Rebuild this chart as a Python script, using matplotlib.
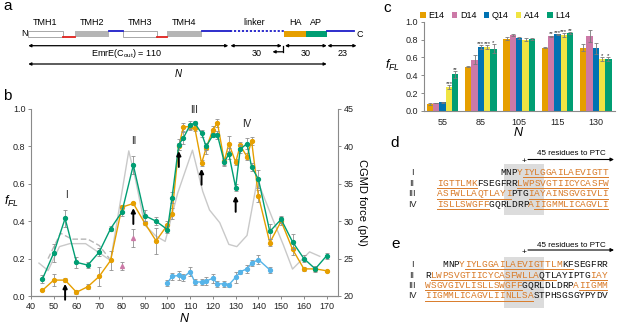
import matplotlib
matplotlib.use("Agg")
import matplotlib.pyplot as plt
from matplotlib.patches import Rectangle
import numpy as np

plt.rcParams['font.family'] = ['Liberation Sans', 'DejaVu Sans']
plt.rcParams['mathtext.fontset'] = 'custom'
plt.rcParams['mathtext.it'] = 'Liberation Sans:italic'
plt.rcParams['mathtext.rm'] = 'Liberation Sans'

W, H = 617, 324

# ---------------- panel b data ----------------
n_main = [45, 50, 55, 60, 65, 70, 75, 80, 85, 90, 95, 100, 102, 105, 107, 110, 112,
          115, 117, 120, 122, 125, 127, 130, 132, 135, 137, 140, 145, 150, 155, 160, 165, 170]
f_orange = [0.03, 0.085, 0.085, 0.02, 0.05, 0.105, 0.19, 0.475, 0.495, 0.39, 0.295, 0.38, 0.44,
            0.80, 0.905, 0.905, 0.90, 0.71, 0.79, 0.89, 0.925, 0.72, 0.815, 0.715, 0.805, 0.745,
            0.83, 0.535, 0.285, 0.40, 0.25, 0.145, 0.145, 0.135]
err_orange = [0.005, 0.03, 0.01, 0.01, 0.015, 0.05, 0.05, 0.01, 0.01, 0.01, 0.07, 0.02, 0.03,
              0.02, 0.02, 0.015, 0.02, 0.015, 0.03, 0.02, 0.02, 0.02, 0.04, 0.015, 0.02, 0.02,
              0.02, 0.03, 0.02, 0.02, 0.03, 0.01, 0.01, 0.005]
f_green = [0.09, 0.23, 0.415, 0.18, 0.165, 0.235, 0.36, 0.45, 0.70, 0.43, 0.40, 0.355, 0.525,
           0.81, 0.845, 0.915, 0.925, 0.87, 0.80, 0.86, 0.86, 0.715, 0.76, 0.58, 0.785, 0.815,
           0.69, 0.625, 0.345, 0.41, 0.29, 0.20, 0.145, 0.215]
err_green = [0.02, 0.05, 0.045, 0.03, 0.015, 0.02, 0.015, 0.02, 0.05, 0.03, 0.02, 0.02, 0.03,
             0.03, 0.03, 0.02, 0.01, 0.02, 0.02, 0.01, 0.02, 0.02, 0.03, 0.02, 0.02, 0.03,
             0.02, 0.05, 0.04, 0.02, 0.04, 0.02, 0.015, 0.015]
n_blue = [100, 102, 105, 107, 110, 112, 115, 117, 120, 122, 125, 127, 130, 132, 135, 137, 140, 145]
f_blue = [0.07, 0.105, 0.11, 0.10, 0.13, 0.075, 0.075, 0.08, 0.095, 0.065, 0.065, 0.06,
          0.10, 0.13, 0.145, 0.175, 0.195, 0.14]
err_blue = [0.015, 0.02, 0.025, 0.02, 0.025, 0.015, 0.015, 0.02, 0.025, 0.015, 0.015, 0.01,
            0.03, 0.01, 0.02, 0.015, 0.025, 0.015]
n_pink = [80, 85]
f_pink = [0.16, 0.31]
err_pink = [0.02, 0.05]

# CGMD force (pN), right axis
cg_n = [43.5, 47.5, 52.5, 57, 64, 75, 83, 86, 90, 95, 99, 104.5, 111, 115.5, 118.5, 123, 127,
        130.5, 135, 139.5, 146, 151, 155, 162.5, 167]
cg_force = [24.4, 23.4, 26.6, 27.0, 27.0, 24.75, 39.4, 35.5, 29.5, 28.0, 27.3, 33.75, 39.5,
            34.0, 31.5, 29.8, 26.9, 26.6, 28.1, 35.5, 30.5, 26.8, 23.6, 25.9, 25.3]
cg2_n = [47.5, 53, 58, 65, 70, 74.5]
cg2_force = [25.0, 28.4, 27.6, 27.6, 26.75, 25.0]

arrow_n = [55, 85, 105, 115, 130]
arrow_tip = [0.065, 0.47, 0.775, 0.68, 0.535]
helix_labels = ['I', 'II', 'III', 'IV']
helix_n = [55.5, 85, 111.5, 135]
helix_f = [0.54, 0.83, 0.995, 0.92]

# ---------------- panel c data ----------------
c_groups = ['55', '85', '105', '115', '130']
c_names = ['E14', 'D14', 'Q14', 'A14', 'L14']
c_colors = ['#E69F00', '#CC79A7', '#0072B2', '#F0E442', '#009E73']
c_vals = [[0.08, 0.495, 0.81, 0.71, 0.71],
          [0.09, 0.575, 0.85, 0.835, 0.84],
          [0.10, 0.715, 0.82, 0.86, 0.70],
          [0.27, 0.715, 0.80, 0.85, 0.585],
          [0.41, 0.695, 0.81, 0.87, 0.58]]
c_errs = [[0.01, 0.005, 0.02, 0.01, 0.035],
          [0.005, 0.05, 0.01, 0.01, 0.065],
          [0.005, 0.02, 0.01, 0.005, 0.065],
          [0.02, 0.02, 0.02, 0.02, 0.02],
          [0.04, 0.05, 0.01, 0.01, 0.02]]
c_stars = [['', '', '', '', ''],
           ['', '', '', '**', ''],
           ['', '***', '', '***', ''],
           ['***', '***', '', '***', '*'],
           ['**', '*', '', '**', '*']]

# ---------------- panels d / e sequences ----------------
d_seq = ["MNPYIYLGGAILAEVIGTT", "IGTTLMKFSEGFRRLWPSVGTIICYCASFW",
         "ASFWLLAQTLAYIPTGIAYAINSGVGIVLI", "ISLLSWGFFGQRLDRPAIIGMMLICAGVLI"]
d_start = [11, 0, 0, 0]
d_orange = [[(3, 19)], [(0, 7), (14, 30)], [(0, 13), (16, 30)], [(0, 9), (16, 30)]]
d_under = [[(4, 19)], [(0, 7), (14, 30)], [(0, 13), (16, 30)], [(0, 9), (17, 30)]]
pe_seq = ["MNPYIYLGGAILAEVIGTTLMKFSEGFRR", "RLWPSVGTIICYCASFWLLAQTLAYIPTGIAY",
          "WSGVGIVLISLLSWGFFGQRLDLDRPAIIGMM", "IIGMMLICAGVLIINLLSASTPHSGSGYPYDV"]
pe_start = [3, 0, 0, 0]
pe_orange = [[(3, 21)], [(1, 20), (29, 32)], [(0, 17), (26, 32)], [(0, 19)]]
pe_under = [[(4, 23)], [(1, 23), (29, 32)], [(0, 17), (27, 32)], [(0, 19)]]
roman = ['I', 'II', 'III', 'IV']

ORANGE_TXT = '#D97B29'
SPINE = '#8a8a8a'

fig = plt.figure(figsize=(W / 100, H / 100), dpi=100)


def frac(x0, y0, x1, y1):
    return [x0 / W, 1 - y1 / H, (x1 - x0) / W, (y1 - y0) / H]


def style_axis(ax):
    for s in ax.spines.values():
        s.set_color(SPINE)
        s.set_linewidth(0.8)
    ax.tick_params(labelsize=6.5, length=2.5, width=0.7, color=SPINE, pad=1.5, labelcolor='#222222')


# ---------------- panel b ----------------
axb = fig.add_axes(frac(31, 109, 338, 296))
axr = axb.twinx()
axr.plot(cg_n, cg_force, color='#c9c9c9', lw=1.0)
axr.plot(cg2_n, cg2_force, color='#b5b5b5', lw=1.0, ls=(0, (4, 2)))
axr.set_ylim(20, 45)
axr.set_yticks(range(20, 46, 5))
axb.set_zorder(axr.get_zorder() + 1)
axb.patch.set_visible(False)


def series(ax, x, y, err, color, marker='o', line=True):
    ax.errorbar(x, y, yerr=err, fmt='none', ecolor='#8f8f8f', elinewidth=0.6, capsize=1.5, capthick=0.6)
    ax.plot(x, y, color=color, lw=1.0 if line else 0, marker=marker, ms=2.8, mec=color)


series(axb, n_blue, f_blue, err_blue, '#56B4E9')
series(axb, n_main, f_orange, err_orange, '#E69F00')
series(axb, n_main, f_green, err_green, '#009E73')
series(axb, n_pink, f_pink, err_pink, '#CC79A7', marker='^', line=False)

for n, tip in zip(arrow_n, arrow_tip):
    axb.annotate('', xy=(n, tip), xytext=(n, tip - 0.085),
                 arrowprops=dict(arrowstyle='-|>', color='k', lw=1.4, mutation_scale=6,
                                 shrinkA=0, shrinkB=0), annotation_clip=False)
for lab, n, f in zip(helix_labels, helix_n, helix_f):
    axb.text(n, f, lab, ha='center', va='center', fontsize=7, color='#222222')

axb.set_xlim(40, 175)
axb.set_ylim(0, 1)
axb.set_xticks(range(40, 171, 10))
axb.set_yticks(np.arange(0, 1.01, 0.2))
axb.set_yticklabels([f'{v:.1f}' for v in np.arange(0, 1.01, 0.2)])
for ax in (axb, axr):
    style_axis(ax)
    ax.spines['top'].set_visible(False)
axb.spines['right'].set_visible(False)
axr.spines['left'].set_visible(False)
axb.set_xlabel('$N$', fontsize=9, labelpad=1)
axr.set_ylabel('CGMD force (pN)', fontsize=8, rotation=270, labelpad=10)

# ---------------- panel c ----------------
axc = fig.add_axes(frac(423.5, 21.7, 615, 111))
x = np.arange(len(c_groups))
w = 0.165
for i, (name, col) in enumerate(zip(c_names, c_colors)):
    pos = x + (i - 2) * w
    axc.bar(pos, c_vals[i], w, color=col, label=name, yerr=c_errs[i],
            error_kw=dict(ecolor='#7a7a7a', elinewidth=0.6, capsize=1.1, capthick=0.6))
    for p, v, er, s in zip(pos, c_vals[i], c_errs[i], c_stars[i]):
        if s:
            axc.text(p, v + er - 0.01, s, ha='center', va='bottom', fontsize=4.3,
                     color='#222222', linespacing=0.8)
axc.set_xlim(-0.5, 4.5)
axc.set_ylim(0, 1)
axc.set_xticks(x)
axc.set_xticklabels(c_groups)
axc.set_yticks(np.arange(0, 1.01, 0.2))
axc.set_yticklabels([f'{v:.1f}' for v in np.arange(0, 1.01, 0.2)])
style_axis(axc)
axc.tick_params(axis='x', length=0, pad=5)
axc.spines['top'].set_visible(False)
axc.spines['right'].set_visible(False)
axc.legend(ncol=5, loc='center', bbox_to_anchor=(0.375, 1.07), frameon=False, fontsize=6.5,
           handlelength=0.6, handleheight=0.6, handletextpad=0.3, columnspacing=0.8,
           borderaxespad=0)

# ---------------- overlay in pixel coordinates: panel a, d, e and labels ----------------
ax0 = fig.add_axes([0, 0, 1, 1])
ax0.set_xlim(0, W)
ax0.set_ylim(H, 0)
ax0.axis('off')

for lab, (px, py) in zip('abcde', [(3, 6), (3, 96), (383, 8), (390, 143), (391, 244)]):
    ax0.text(px, py, lab, fontsize=11, ha='left', va='center')
ax0.text(12, 201, '$f_{FL}$', fontsize=9, ha='center', va='center')
ax0.text(393, 65, '$f_{FL}$', fontsize=9, ha='center', va='center')
ax0.text(519, 133, '$N$', fontsize=9, ha='center', va='center')

# panel a schematic
box_top, box_bot = 30.7, 36.7
for x0, x1, fc, ec in [(28.3, 63.3, 'white', '#9a9a9a'), (75, 109.3, '#b5b5b5', 'none'),
                       (122.7, 157.3, 'white', '#9a9a9a'), (167.3, 201.7, '#b5b5b5', 'none'),
                       (284, 306, '#E69F00', 'none'), (306, 326.7, '#009E73', 'none')]:
    ax0.add_patch(Rectangle((x0, box_top), x1 - x0, box_bot - box_top, facecolor=fc,
                            edgecolor=ec, lw=0.6))
ax0.plot([63.3, 75], [box_bot, box_bot], color='#E0201B', lw=1.3)
ax0.plot([157.3, 167.3], [box_bot, box_bot], color='#E0201B', lw=1.3)
ax0.plot([109.3, 122.7], [box_top + 0.6, box_top + 0.6], color='#1C1CC8', lw=1.3)
ax0.plot([201.7, 230], [box_top + 0.6, box_top + 0.6], color='#1C1CC8', lw=1.3)
ax0.plot([230, 284], [box_top + 0.6, box_top + 0.6], color='#1C1CC8', lw=1.3, ls=(0, (1.2, 1)))
ax0.plot([326.7, 354], [box_top + 0.6, box_top + 0.6], color='#1C1CC8', lw=1.3)
ax0.text(24, 34, 'N', fontsize=6.5, ha='center', va='center')
ax0.text(359.5, 34.5, 'C', fontsize=6.5, ha='center', va='center')
for lab, px in zip(['TMH1', 'TMH2', 'TMH3', 'TMH4', 'linker', 'HA', 'AP'],
                   [45, 91.7, 140, 184, 254, 295, 316]):
    ax0.text(px, 22.7, lab, fontsize=6.5, ha='center', va='center')


def dbl_arrow(x0, x1, y):
    ax0.annotate('', xy=(x1, y), xytext=(x0, y),
                 arrowprops=dict(arrowstyle='<|-|>', color='k', lw=0.9, mutation_scale=4,
                                 shrinkA=0, shrinkB=0))


dbl_arrow(28.3, 228.3, 45.7)
dbl_arrow(230.5, 281.7, 45.7)
dbl_arrow(285, 326.7, 45.7)
dbl_arrow(327.5, 356.5, 45.7)
dbl_arrow(28.3, 326.7, 64)
ax0.text(126.7, 53, r'EmrE(C$_{\rm out}$) = 110', fontsize=6.5, ha='center', va='center')
ax0.text(256.7, 53, '30', fontsize=6.5, ha='center', va='center')
ax0.text(306, 53, '30', fontsize=6.5, ha='center', va='center')
ax0.text(342.3, 53, '23', fontsize=6.5, ha='center', va='center')
ax0.text(178.3, 73, '$N$', fontsize=7, ha='center', va='center')
ax0.plot([283, 283], [46, 51.8], color='k', lw=0.9)
ax0.annotate('', xy=(272.5, 51.8), xytext=(283.3, 51.8),
             arrowprops=dict(arrowstyle='-|>', color='k', lw=0.9, mutation_scale=4,
                             shrinkA=0, shrinkB=0))

# panels d and e sequences
CW = 5.7


def seq_block(x0, rows_y, seqs, starts, oranges, unders, box_y):
    ax0.add_patch(Rectangle((504, box_y[0]), 40, box_y[1] - box_y[0], facecolor='#dcdcdc',
                            edgecolor='none', zorder=0))
    for ry, s, st, orng, und, rn in zip(rows_y, seqs, starts, oranges, unders, roman):
        ax0.text(412, ry, rn, fontsize=6.5, ha='center', va='center', color='#222222')
        for i, ch in enumerate(s):
            col = ORANGE_TXT if any(a <= i < b for a, b in orng) else '#111111'
            ax0.text(x0 + (st + i + 0.5) * CW, ry, ch, fontsize=6.8, ha='center', va='center',
                     color=col, family='Liberation Mono')
        for a, b in und:
            col = ORANGE_TXT if any(a0 <= a < b0 for a0, b0 in orng) else '#111111'
            ax0.plot([x0 + (st + a) * CW, x0 + (st + b) * CW], [ry + 4.6, ry + 4.6],
                     color=col, lw=0.7)


def ptc_arrow(y, text_y):
    ax0.annotate('', xy=(614, y), xytext=(528, y),
                 arrowprops=dict(arrowstyle='-|>', color='k', lw=0.8, mutation_scale=5,
                                 shrinkA=0, shrinkB=0))
    ax0.text(571, text_y, '45 residues to PTC', fontsize=5.8, ha='center', va='center')
    ax0.text(524.5, y + 2.5, '+', fontsize=6, ha='center', va='center')


seq_block(437.3, [172.5, 183.2, 193.9, 204.6], d_seq, d_start, d_orange, d_under, (163.5, 215))
ptc_arrow(159.5, 153.3)
seq_block(425.0, [264.3, 275.0, 285.5, 296.0], pe_seq, pe_start, pe_orange, pe_under, (256.5, 308.3))
ptc_arrow(250, 245.5)

fig.savefig('out.png', dpi=100)
